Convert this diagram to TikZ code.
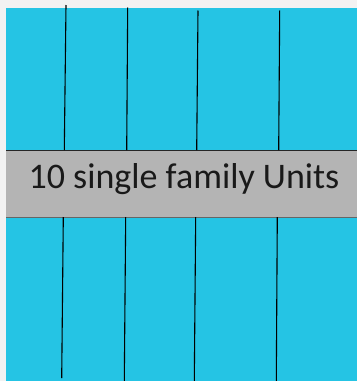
\documentclass[tikz,border=0pt]{standalone}
\usepackage{fontspec}
\setmainfont{Carlito}
\usepackage{tikz}
\usetikzlibrary{calc}

\definecolor{lotcyan}{RGB}{37,196,228}
\definecolor{roadgray}{RGB}{180,180,180}
\definecolor{paper}{RGB}{242,242,242}

\begin{document}
\begin{tikzpicture}[x=1pt,y=-1pt,
  every node/.style={font=\fontsize{36}{40}\selectfont},
  lotline/.style={black,line width=1.1pt}]

  % 描画範囲（余白込み）
  \fill[paper] (0,0) rectangle (357,381);
  \useasboundingbox (0,0) rectangle (357,381);

  % 敷地と道路
  \fill[lotcyan] (6,8) rectangle (357,381);
  \fill[roadgray] (6,150) rectangle (357,216.5);
  \draw[black!85,line width=0.8pt] (6,150.2)--(357,150.2);
  \draw[black!60,line width=0.6pt] (6,216.8)--(357,216.8);

  % 上側の区画線
  \coordinate (T1a) at ( 66.0,  5.0);
  \coordinate (T1b) at ( 64.3,150.0);
  \coordinate (T2a) at (127.7,  7.5);
  \coordinate (T2b) at (126.7,150.0);
  \coordinate (T3a) at (198.0, 10.5);
  \coordinate (T3b) at (196.7,150.0);
  \coordinate (T4a) at (279.7, 10.5);
  \coordinate (T4b) at (278.7,150.0);

  \draw[lotline] (T1a)--(T1b);
  \draw[lotline] (T2a)--(T2b);
  \draw[lotline] (T3a)--(T3b);
  \draw[lotline] (T4a)--(T4b);

  % 下側の区画線
  \coordinate (B1a) at ( 63.3,217.0);
  \coordinate (B1b) at ( 61.7,378.0);
  \coordinate (B2a) at (125.7,217.0);
  \coordinate (B2b) at (124.3,381.0);
  \coordinate (B3a) at (195.7,217.0);
  \coordinate (B3b) at (194.3,381.0);
  \coordinate (B4a) at (277.3,217.0);
  \coordinate (B4b) at (276.3,381.0);

  \draw[lotline] (B1a)--(B1b);
  \draw[lotline] (B2a)--(B2b);
  \draw[lotline] (B3a)--(B3b);
  \draw[lotline] (B4a)--(B4b);

  % ラベル
  \node[text=black!90,anchor=base] (units) at (184,188) {10 single family Units};

\end{tikzpicture}
\end{document}
